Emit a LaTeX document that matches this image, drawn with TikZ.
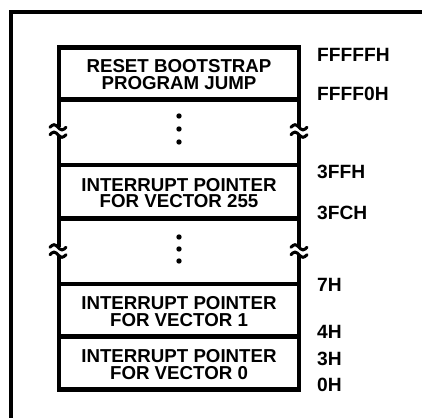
\documentclass[tikz,border=0pt]{standalone}
\usepackage{fontspec}
\setmainfont{Liberation Sans}
\begin{document}
\begin{tikzpicture}[x=1pt,y=-1pt,
  txt/.style={font=\bfseries\fontsize{18.7}{16.5}\selectfont, align=center, inner sep=0pt},
  lbl/.style={font=\bfseries\fontsize{19.2}{16}\selectfont, anchor=west, inner sep=0pt},
  frame/.style={line width=4pt},
  boxline/.style={line width=4.6pt},
  brk/.style={line width=3pt, line cap=round},
  dot/.style={circle, fill=black, inner sep=0pt, minimum size=5.4pt}]
\useasboundingbox (0,0) rectangle (422,417);
\fill[white] (0,0) rectangle (422,417);
% outer frame (cut at right and bottom)
\draw[frame] (11,440) -- (11,12) -- (440,12);
% memory column
\draw[boxline] (59,127.3) -- (59,47.5) -- (299,47.5) -- (299,127.3);
\draw[boxline] (59,134.7) -- (59,247.3);
\draw[boxline] (299,134.7) -- (299,247.3);
\draw[boxline] (59,254.7) -- (59,389.5) -- (299,389.5) -- (299,254.7);
\foreach \yy in {99.5,165,218.5,284,336.5}
  \draw[boxline] (59,\yy) -- (299,\yy);
% break marks
\foreach \xx in {58,299}{
  \foreach \yy in {127.3,134.7,247.3,254.7}
    \draw[brk] (\xx-8,\yy) sin (\xx-4,\yy-2.6) cos (\xx,\yy) sin (\xx+4,\yy+2.6) cos (\xx+8,\yy);
}
% dots
\foreach \yy [count=\i] in {116,129,142}
  \node[dot] (da\i) at (179,\yy) {};
\foreach \yy [count=\i] in {237,249,261}
  \node[dot] (db\i) at (179,\yy) {};
% box texts
\node[txt] (reset) at (179,74.5) {RESET BOOTSTRAP\\PROGRAM JUMP};
\node[txt] (v255) at (179,192.9) {INTERRUPT POINTER\\FOR VECTOR 255};
\node[txt] (v1) at (179,311.7) {INTERRUPT POINTER\\FOR VECTOR 1};
\node[txt] (v0) at (179,364.7) {INTERRUPT POINTER\\FOR VECTOR 0};
% addresses
\node[lbl] (a1) at (317,54.5) {FFFFFH};
\node[lbl] (a2) at (317,93.5) {FFFF0H};
\node[lbl] (a3) at (317,171.7) {3FFH};
\node[lbl] (a4) at (317,212.7) {3FCH};
\node[lbl] (a5) at (317,285) {7H};
\node[lbl] (a6) at (317,332) {4H};
\node[lbl] (a7) at (317,359) {3H};
\node[lbl] (a8) at (317,385) {0H};
\end{tikzpicture}
\end{document}
